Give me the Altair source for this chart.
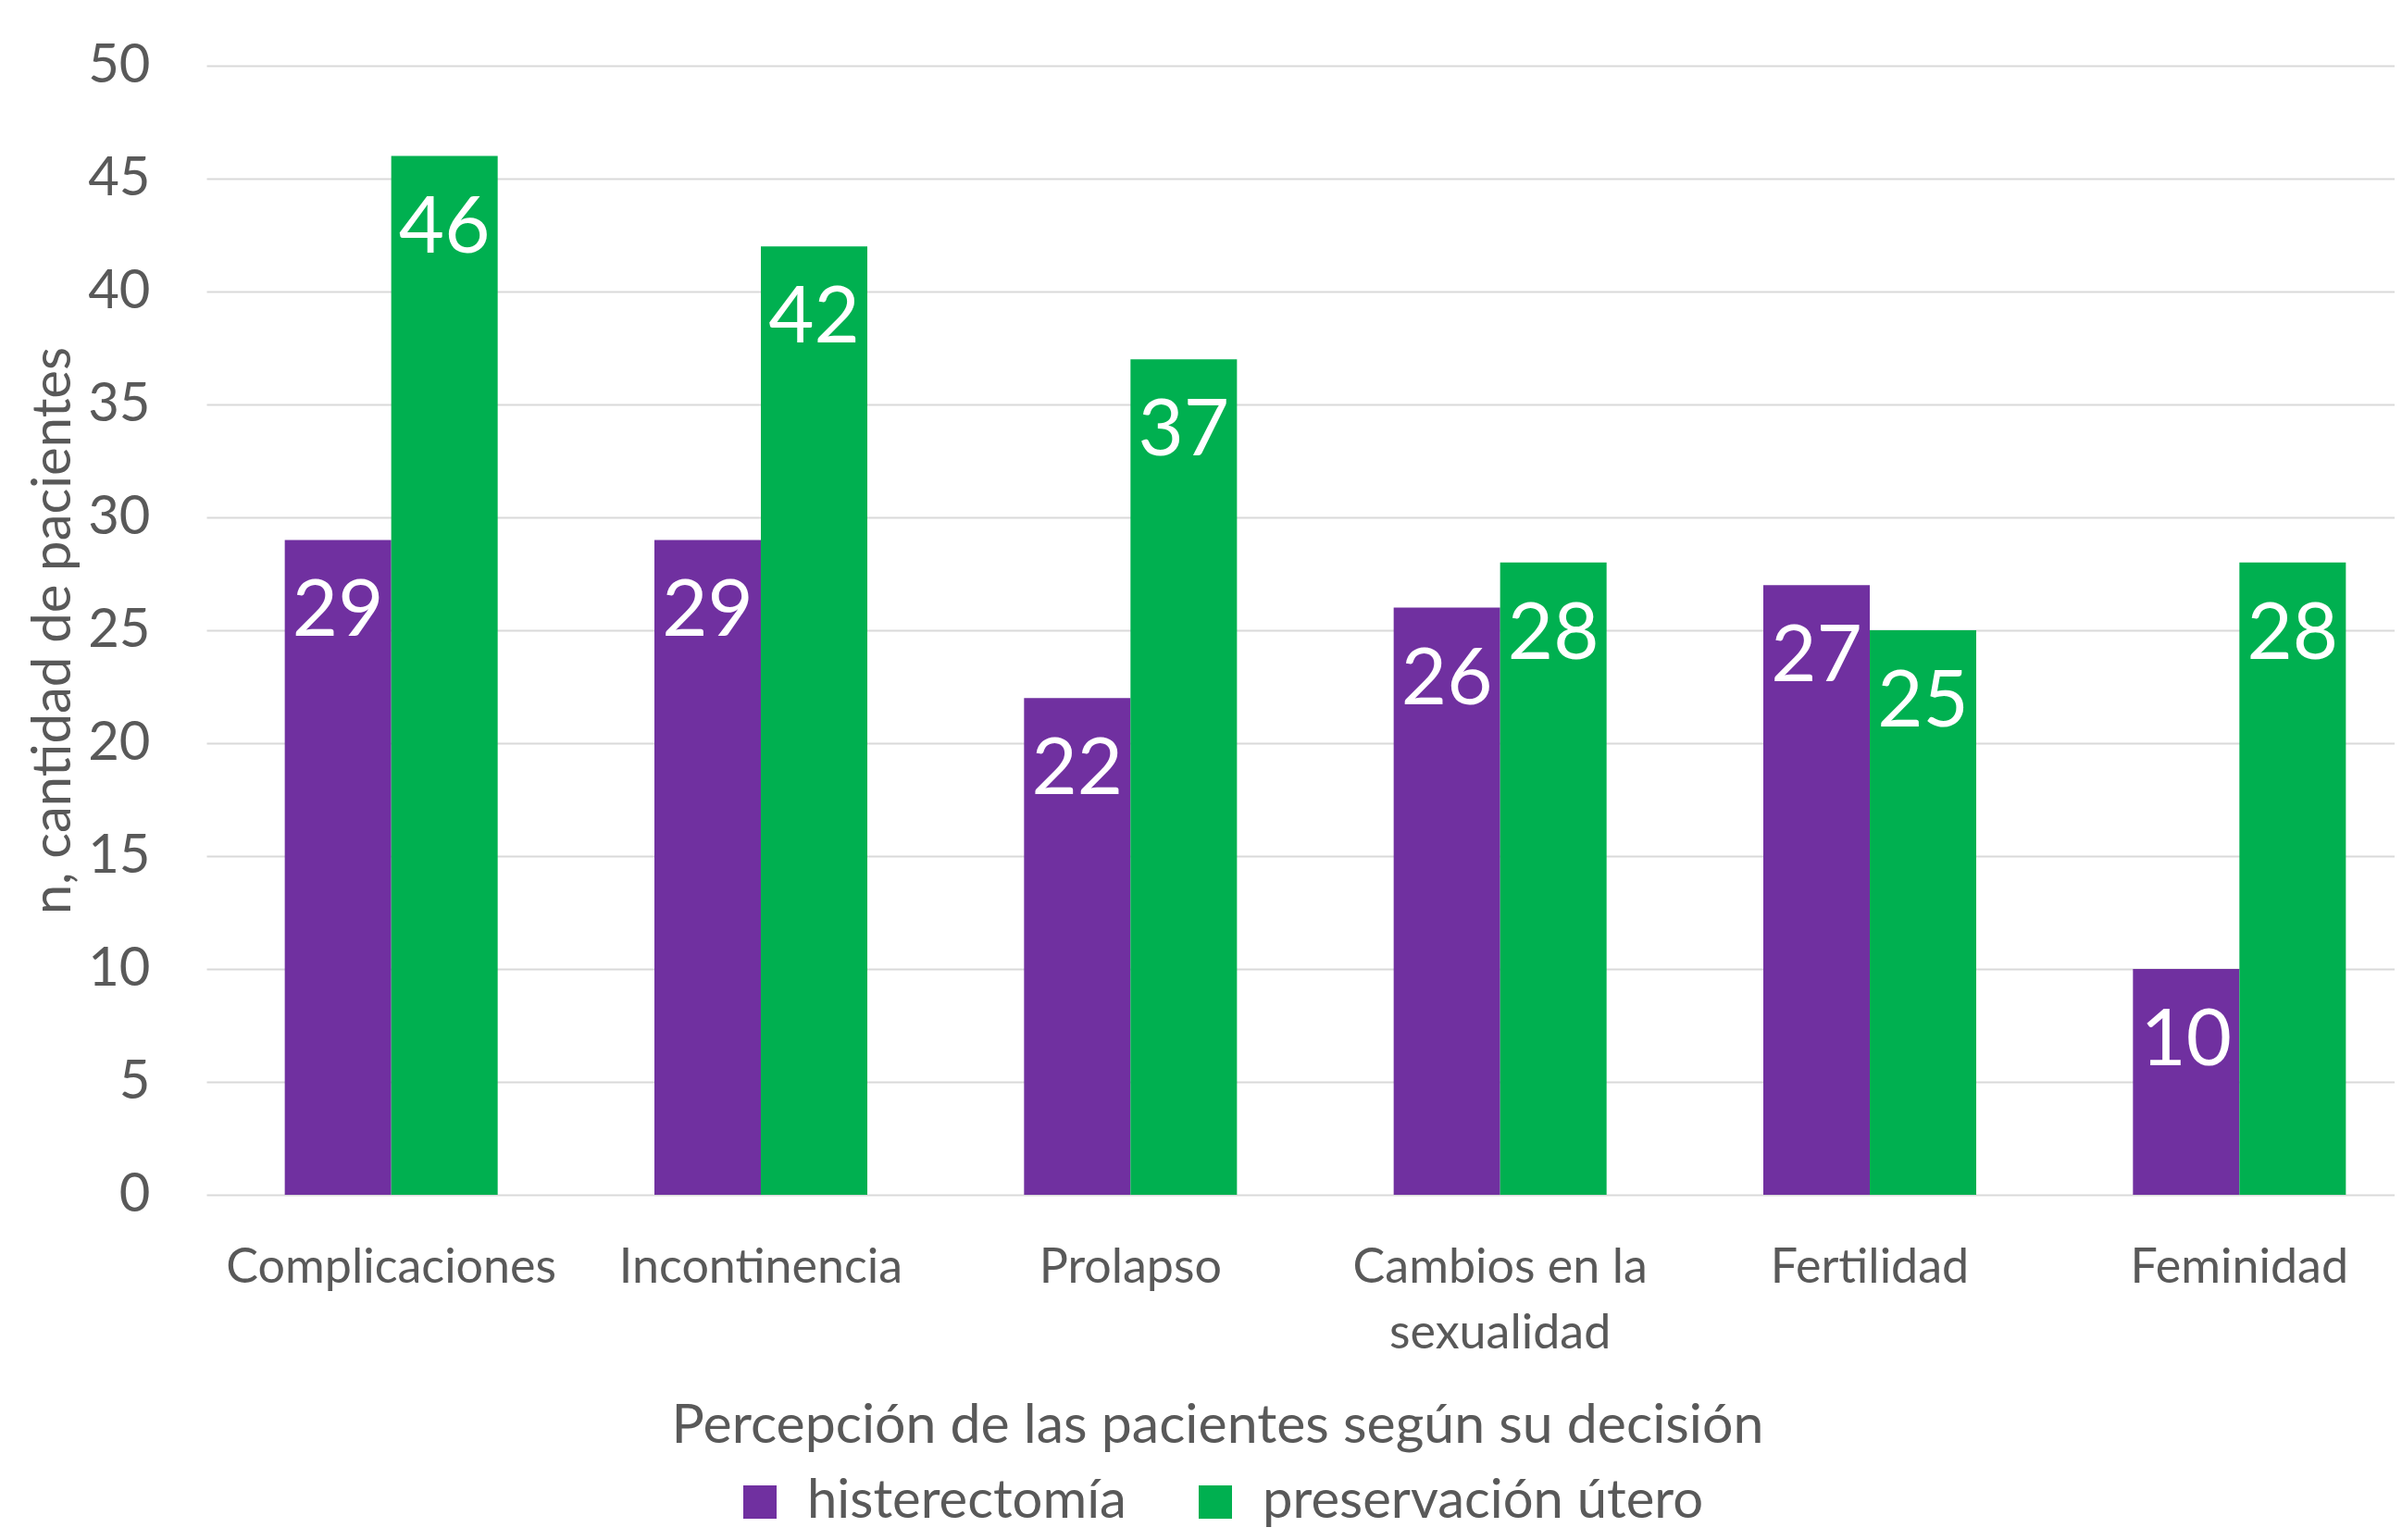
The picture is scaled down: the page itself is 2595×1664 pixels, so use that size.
import altair as alt
import pandas as pd

categories = ["Complicaciones", "Incontinencia", "Prolapso",
              "Cambios en la sexualidad", "Fertilidad", "Feminidad"]
series = ["histerectomía", "preservación útero"]
histerectomia = [29, 29, 22, 26, 27, 10]
preservacion = [46, 42, 37, 28, 25, 28]
colors = ["#7030A0", "#00B050"]
y_ticks = [0, 5, 10, 15, 20, 25, 30, 35, 40, 45, 50]

rows = []
for c, h, p in zip(categories, histerectomia, preservacion):
    rows.append({"cat": c, "serie": series[0], "n": h})
    rows.append({"cat": c, "serie": series[1], "n": p})
df = pd.DataFrame(rows)

FONT = "Lato"
TXT = "#595959"

x_enc = alt.X(
    "cat:N",
    sort=categories,
    scale=alt.Scale(paddingInner=0.424, paddingOuter=0.212, range=[0, 2396]),
    axis=alt.Axis(
        title="Percepción de las pacientes según su decisión",
        titleFont=FONT, titleFontSize=59, titleColor=TXT, titleFontWeight="normal",
        titleX=1092, titleY=267, titleBaseline="alphabetic", titleAnchor="start", titleAlign="center",
        labelFont=FONT, labelFontSize=52, labelColor=TXT, labelAngle=0,
        labelPadding=53, labelLineHeight=71, labelLimit=1000,
        labelExpr="datum.label == 'Cambios en la sexualidad' ? ['Cambios en la', 'sexualidad'] : datum.label",
        domain=False, ticks=False, tickSize=0, grid=False,
    ),
)
y_enc = alt.Y(
    "n:Q",
    scale=alt.Scale(domain=[0, 50], nice=False),
    axis=alt.Axis(
        title="n, cantidad de pacientes",
        titleFont=FONT, titleFontSize=58, titleColor=TXT, titleFontWeight="normal",
        titleAngle=270, titleX=-148, titleY=610, titleBaseline="alphabetic", titleAlign="center",
        values=y_ticks,
        labelFont=FONT, labelFontSize=58, labelColor=TXT, labelPadding=61,
        domain=False, ticks=False, tickSize=0,
        grid=True, gridColor="#D9D9D9", gridWidth=2,
    ),
)
xoff = alt.XOffset("serie:N", sort=series, scale=alt.Scale(domain=series, paddingInner=0, paddingOuter=0))

bars = alt.Chart(df).mark_bar().encode(
    x=x_enc,
    xOffset=xoff,
    y=y_enc,
    color=alt.Color(
        "serie:N",
        scale=alt.Scale(domain=series, range=colors),
        legend=alt.Legend(
            title=None, orient="none", direction="horizontal",
            legendX=569, legendY=1523, padding=0,
            symbolType="square", symbolSize=1296, symbolStrokeWidth=0, symbolOpacity=1,
            labelFont=FONT, labelFontSize=58, labelColor=TXT, labelOffset=22,
            columnPadding=67, labelLimit=1000,
        ),
    ),
)

labels = alt.Chart(df).mark_text(
    font=FONT, fontSize=85, color="white", baseline="alphabetic", align="center", dy=104
).encode(
    x=alt.X("cat:N", sort=categories),
    xOffset=xoff,
    y=alt.Y("n:Q"),
    text=alt.Text("n:Q"),
)

chart = alt.layer(bars, labels).properties(
    width=2364, height=1220,
    autosize=alt.AutoSizeParams(type="none"),
    padding={"left": 215, "top": 63, "right": 0, "bottom": 365},
).configure_view(stroke=None)

chart.save("out.html", embed_options={"renderer": "svg", "actions": False})
